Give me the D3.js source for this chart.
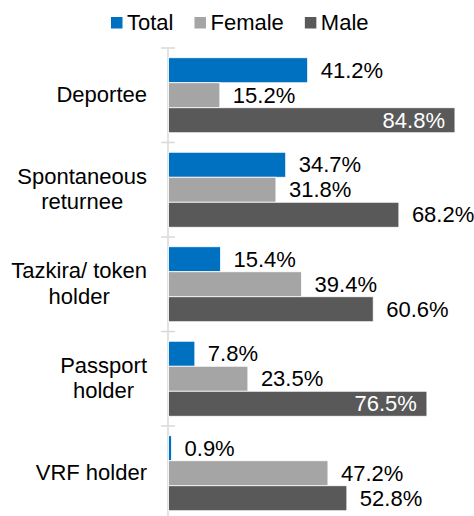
<!DOCTYPE html>
<html>
<head>
<meta charset="utf-8">
<script src="https://cdn.jsdelivr.net/npm/d3@7"></script>
<style>
body{margin:0;background:#fff;}
svg{display:block;font-family:"Liberation Sans",Arial,sans-serif;}
</style>
</head>
<body>
<div id="chart"></div>
<script>
var categories = [["Deportee"], ["Spontaneous","returnee"], ["Tazkira/ token","holder"], ["Passport","holder"], ["VRF holder"]];
var seriesNames = ["Total","Female","Male"];
var seriesColors = ["#0070C0","#A5A5A5","#595959"];
var totalVals = [41.2, 34.7, 15.4, 7.8, 0.9];
var femaleVals = [15.2, 31.8, 39.4, 23.5, 47.2];
var maleVals = [84.8, 68.2, 60.6, 76.5, 52.8];
// labels drawn inside the bar end (white)
var insideLabels = {"2-0":true, "2-3":true};

var w = 474, h = 516;
var svg = d3.select("#chart").append("svg").attr("width", w).attr("height", h);

var x = d3.scaleLinear().domain([0,100]).range([168.5, 506.3]);
var y = d3.scaleBand().domain(d3.range(categories.length)).range([48, 48+94.5*5]);
var inner = d3.scaleBand().domain(d3.range(3)).range([0, y.bandwidth()]).paddingOuter(0.39);

var data = [];
var vals = [totalVals, femaleVals, maleVals];
for (var c=0;c<categories.length;c++){
	for (var s=0;s<3;s++){
		data.push({c:c, s:s, v:vals[s][c]});
	}
}

// axis line + ticks
svg.append("line").attr("x1",168).attr("x2",168).attr("y1",48).attr("y2",h)
	.attr("stroke","#D9D9D9").attr("stroke-width",1.5);
svg.selectAll(".tick").data(d3.range(categories.length+1)).enter().append("line")
	.attr("class","tick")
	.attr("x1",161).attr("x2",175)
	.attr("y1",function(d){ return 48+d*y.step(); })
	.attr("y2",function(d){ return 48+d*y.step(); })
	.attr("stroke","#D9D9D9").attr("stroke-width",1.5);

svg.selectAll(".bar").data(data).enter().append("rect")
	.attr("class","bar")
	.attr("x", x(0))
	.attr("y", function(d){ return y(d.c)+inner(d.s); })
	.attr("width", function(d){ return x(d.v)-x(0); })
	.attr("height", inner.bandwidth())
	.attr("fill", function(d){ return seriesColors[d.s]; })
	.attr("stroke","#fff").attr("stroke-width",0.8);

svg.selectAll(".val").data(data).enter().append("text")
	.attr("class","val")
	.attr("x", function(d){
		return insideLabels[d.s+"-"+d.c] ? x(d.v)-10 : x(d.v)+13;
	})
	.attr("y", function(d){ return y(d.c)+inner(d.s)+inner.bandwidth()/2+7.5; })
	.attr("text-anchor", function(d){ return insideLabels[d.s+"-"+d.c] ? "end" : "start"; })
	.attr("fill", function(d){ return insideLabels[d.s+"-"+d.c] ? "#fff" : "#000"; })
	.attr("font-size",22)
	.text(function(d){ return d.v.toFixed(1)+"%"; });

// category labels
var cat = svg.selectAll(".cat").data(categories).enter().append("text")
	.attr("class","cat")
	.attr("font-size",22)
	.attr("fill","#000")
	.attr("text-anchor","middle");
cat.each(function(d,i){
	var t = d3.select(this);
	var mid = y(i)+y.bandwidth()/2;
	var spans = t.selectAll("tspan").data(d).enter().append("tspan")
		.text(function(l){ return l; })
		.attr("y", function(l,j){
			return d.length==1 ? mid+6.75 : mid-6 + j*25.5;
		});
	var maxW = 0;
	spans.each(function(){ maxW = Math.max(maxW, this.getComputedTextLength()); });
	spans.attr("x", 147 - maxW/2);
});

// legend
var lx = 111;
seriesNames.forEach(function(n,i){
	svg.append("rect").attr("x",lx).attr("y",17).attr("width",11.5).attr("height",11.5)
		.attr("fill",seriesColors[i]);
	var t = svg.append("text").attr("x",lx+16).attr("y",30).attr("font-size",22)
		.attr("fill","#000").text(n);
	lx += 16 + t.node().getComputedTextLength() + 21;
});
</script>
</body>
</html>
